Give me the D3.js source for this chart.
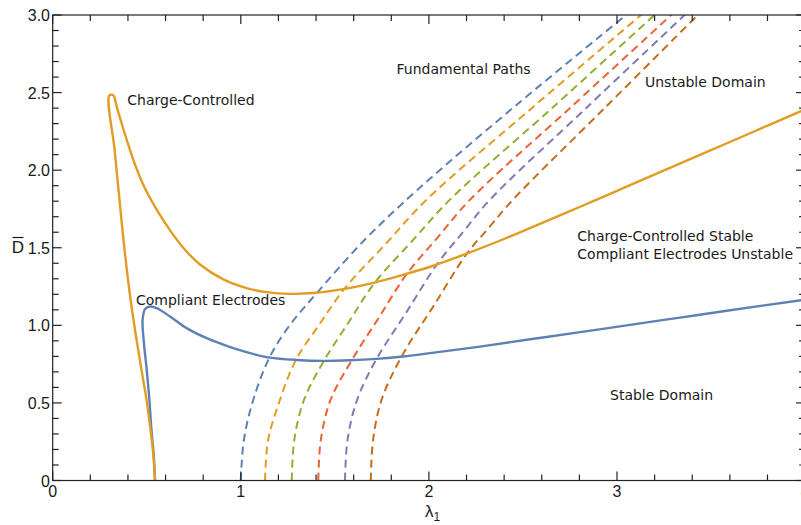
<!DOCTYPE html>
<html>
<head>
<meta charset="utf-8">
<script src="https://cdn.jsdelivr.net/npm/d3@7"></script>
<style>
  html, body { margin: 0; padding: 0; background: #fff; }
  svg { display: block; }
</style>
</head>
<body>
<svg id="chart" width="801" height="525"></svg>
<script>
// Axis ticks and labels
const xMajorTicks = [0, 1, 2, 3, 4];
const xTickLabels = ["0", "1", "2", "3", "4"];
const yMajorTicks = [0, 0.5, 1, 1.5, 2, 2.5, 3];
const yTickLabels = ["0", "0.5", "1.0", "1.5", "2.0", "2.5", "3.0"];

// Charge-controlled stability boundary: [λ1, D]
const chargeControlled = [
  [0.544, 0], [0.535, 0.165], [0.520, 0.326], [0.499, 0.519], [0.472, 0.713],
  [0.446, 0.906], [0.414, 1.165], [0.382, 1.487], [0.355, 1.810], [0.329, 2.132],
  [0.301, 2.481], [0.322, 2.483], [0.340, 2.410], [0.367, 2.300], [0.393, 2.197],
  [0.428, 2.068], [0.482, 1.905], [0.553, 1.745], [0.624, 1.612], [0.694, 1.500],
  [0.783, 1.392], [0.907, 1.296], [1.031, 1.240], [1.138, 1.214], [1.262, 1.203],
  [1.385, 1.208], [1.527, 1.230], [1.704, 1.274], [1.864, 1.326], [2.023, 1.384],
  [2.183, 1.454], [2.360, 1.537], [2.537, 1.626], [2.715, 1.718], [2.892, 1.810],
  [3.069, 1.903], [3.441, 2.098], [3.707, 2.238], [4.0, 2.392]
];

// Compliant-electrodes stability boundary: [λ1, D]
const compliantElectrodes = [
  [0.544, 0], [0.537, 0.165], [0.525, 0.326], [0.514, 0.519], [0.500, 0.713],
  [0.485, 0.885], [0.478, 1.035], [0.491, 1.105], [0.517, 1.121], [0.553, 1.111],
  [0.624, 1.057], [0.712, 0.982], [0.819, 0.917], [0.925, 0.868], [1.049, 0.821],
  [1.155, 0.792], [1.297, 0.777], [1.439, 0.771], [1.581, 0.775], [1.722, 0.784],
  [1.864, 0.799], [2.006, 0.821], [2.272, 0.863], [2.538, 0.910], [2.804, 0.956],
  [3.069, 1.003], [3.335, 1.050], [3.601, 1.097], [4.0, 1.165]
];

// Fundamental loading paths for six pre-stretches: [λ1, D]
const path1 = [[1.000, 0], [1.016, 0.258], [1.066, 0.519], [1.155, 0.799], [1.260, 1.0],
  [1.404, 1.208], [1.656, 1.548], [1.937, 1.871], [2.484, 2.439], [3.052, 3.003]];
const path2 = [[1.129, 0], [1.145, 0.258], [1.208, 0.519], [1.293, 0.777], [1.418, 1.006],
  [1.554, 1.240], [1.769, 1.523], [1.988, 1.810], [2.553, 2.406], [3.131, 3.003]];
const path3 = [[1.271, 0], [1.284, 0.258], [1.336, 0.519], [1.442, 0.771], [1.575, 1.023],
  [1.713, 1.276], [1.910, 1.542], [2.112, 1.810], [2.660, 2.406], [3.202, 3.003]];
const path4 = [[1.412, 0], [1.425, 0.258], [1.477, 0.519], [1.590, 0.775], [1.735, 1.052],
  [1.882, 1.330], [2.048, 1.568], [2.219, 1.810], [2.755, 2.406], [3.291, 3.003]];
const path5 = [[1.554, 0], [1.567, 0.258], [1.618, 0.519], [1.722, 0.784], [1.882, 1.087],
  [2.041, 1.390], [2.181, 1.600], [2.325, 1.810], [2.841, 2.406], [3.362, 3.003]];
const path6 = [[1.691, 0], [1.703, 0.258], [1.748, 0.519], [1.855, 0.799], [2.027, 1.129],
  [2.201, 1.461], [2.323, 1.635], [2.447, 1.810], [2.939, 2.406], [3.432, 3.003]];
const pathColors = ["#5E81B5", "#E19C24", "#8FB032", "#EB6235", "#8778B3", "#C56E1A"];

// Region annotations
const annotations = [
  { text: "Charge-Controlled", x: 127.3, y: 105 },
  { text: "Fundamental Paths", x: 396.5, y: 74 },
  { text: "Unstable Domain", x: 645, y: 87.3 },
  { text: "Compliant Electrodes", x: 136, y: 305 },
  { text: "Charge-Controlled Stable", x: 577.3, y: 240.7 },
  { text: "Compliant Electrodes Unstable", x: 577.3, y: 259.3 },
  { text: "Stable Domain", x: 610, y: 400 }
];

const svg = d3.select("#chart");
const plotLeft = 52.7, plotRight = 805.1, plotTop = 15, plotBottom = 480.5;

const x = d3.scaleLinear().domain([0, 4]).range([plotLeft, plotRight]);
const y = d3.scaleLinear().domain([0, 3]).range([plotBottom, plotTop]);

svg.append("defs").append("clipPath").attr("id", "plot-clip")
  .append("rect").attr("x", plotLeft).attr("y", plotTop)
  .attr("width", plotRight - plotLeft).attr("height", plotBottom - plotTop);

const plot = svg.append("g").attr("clip-path", "url(#plot-clip)");

const line = d3.line()
  .x(d => x(d[0]))
  .y(d => y(d[1]))
  .curve(d3.curveCatmullRom.alpha(0.5));

// Dashed fundamental paths
[path1, path2, path3, path4, path5, path6].forEach((pts, i) => {
  plot.append("path")
    .attr("d", line(pts))
    .attr("fill", "none")
    .attr("stroke", pathColors[i])
    .attr("stroke-width", 2)
    .attr("stroke-dasharray", "8,5");
});

// Stability boundaries
plot.append("path")
  .attr("d", line(compliantElectrodes))
  .attr("fill", "none")
  .attr("stroke", "#5E81B5")
  .attr("stroke-width", 2.4);

plot.append("path")
  .attr("d", line(chargeControlled))
  .attr("fill", "none")
  .attr("stroke", "#E19C24")
  .attr("stroke-width", 2.4)
  .attr("stroke-linejoin", "round");

// Frame with ticks on all four sides
const frameColor = "#222";
const xMinor = d3.range(0, 4.0001, 0.2);
const yMinor = d3.range(0, 3.0001, 0.1);
const isMajor = (v, step) => Math.abs(v / step - Math.round(v / step)) < 1e-6;

const axes = svg.append("g").attr("stroke", frameColor).attr("stroke-width", 1.2);

axes.append("rect")
  .attr("x", plotLeft).attr("y", plotTop)
  .attr("width", plotRight - plotLeft).attr("height", plotBottom - plotTop)
  .attr("fill", "none");

xMinor.forEach(v => {
  const len = isMajor(v, 1) ? 9 : 6;
  const px = x(v);
  axes.append("line").attr("x1", px).attr("x2", px).attr("y1", plotBottom).attr("y2", plotBottom - len);
  axes.append("line").attr("x1", px).attr("x2", px).attr("y1", plotTop).attr("y2", plotTop + len);
});
yMinor.forEach(v => {
  const len = isMajor(v, 0.5) ? 9 : 6;
  const py = y(v);
  axes.append("line").attr("x1", plotLeft).attr("x2", plotLeft + len).attr("y1", py).attr("y2", py);
  axes.append("line").attr("x1", plotRight).attr("x2", plotRight - len).attr("y1", py).attr("y2", py);
});

const labelFont = "'Liberation Sans', Arial, sans-serif";

svg.append("g").selectAll("text")
  .data(xMajorTicks)
  .join("text")
  .attr("x", d => x(d))
  .attr("y", 497)
  .attr("text-anchor", "middle")
  .attr("font-family", labelFont)
  .attr("font-size", 16)
  .attr("fill", "#1a1a1a")
  .text((d, i) => xTickLabels[i]);

svg.append("g").selectAll("text")
  .data(yMajorTicks)
  .join("text")
  .attr("x", 50)
  .attr("y", d => y(d) + 6)
  .attr("text-anchor", "end")
  .attr("font-family", labelFont)
  .attr("font-size", 16)
  .attr("fill", "#1a1a1a")
  .text((d, i) => yTickLabels[i]);

// Axis titles: λ1 and D with overbar
const xTitle = svg.append("text")
  .attr("x", 425)
  .attr("y", 517)
  .attr("font-family", labelFont)
  .attr("font-size", 17)
  .attr("fill", "#1a1a1a");
xTitle.append("tspan").text("λ");
xTitle.append("tspan").attr("font-size", 12).attr("dy", 4).text("1");

svg.append("text")
  .attr("x", 18)
  .attr("y", 253)
  .attr("text-anchor", "middle")
  .attr("font-family", labelFont)
  .attr("font-size", 17)
  .attr("fill", "#1a1a1a")
  .text("D");
svg.append("line")
  .attr("x1", 12.5).attr("x2", 23.5)
  .attr("y1", 237.5).attr("y2", 237.5)
  .attr("stroke", "#1a1a1a").attr("stroke-width", 1.2);

svg.append("g").selectAll("text")
  .data(annotations)
  .join("text")
  .attr("x", d => d.x)
  .attr("y", d => d.y)
  .attr("font-family", "'DejaVu Sans', Verdana, sans-serif")
  .attr("font-size", 14)
  .attr("fill", "#1a1a1a")
  .text(d => d.text);
</script>
</body>
</html>
